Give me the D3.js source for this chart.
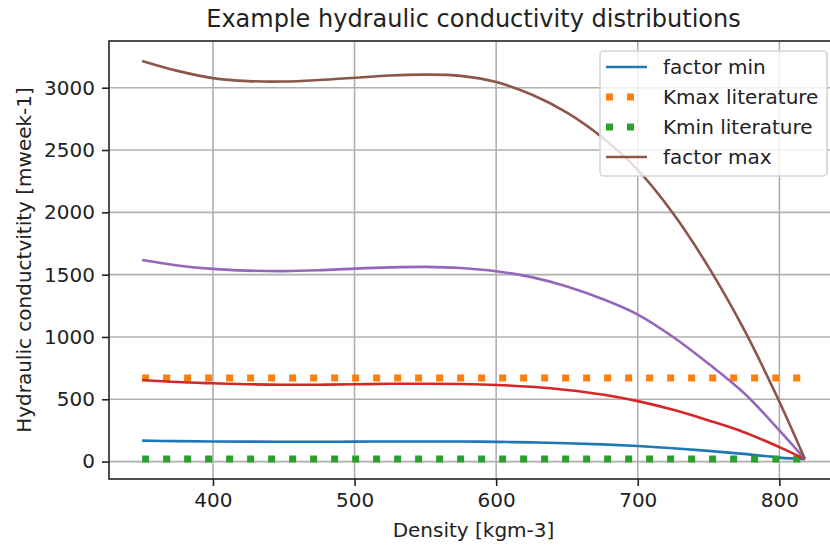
<!DOCTYPE html>
<html>
<head>
<meta charset="utf-8">
<script src="https://cdn.jsdelivr.net/npm/d3@7"></script>
<style>
  html, body { margin: 0; padding: 0; background: #fff; }
  svg { display: block; font-family: "DejaVu Sans", sans-serif; }
</style>
</head>
<body>
<div id="chart"></div>
<script>
// density values (x) shared by every series
const density = [350, 375, 400, 425, 450, 475, 500, 525, 550, 575, 600, 625, 650, 675, 700, 725, 750, 775, 800, 818];

// curves
const factorMin = [168, 164, 161, 160, 159, 159, 160, 161, 161, 161, 158, 154, 147, 138, 125, 107, 86, 62, 32, 20];
const factorRed = [655, 638, 628, 620, 617, 617, 620, 624, 625, 622, 615, 600, 575, 538, 485, 415, 330, 236, 116, 20];
const factorPurple = [1618, 1574, 1546, 1532, 1528, 1535, 1548, 1558, 1562, 1553, 1527, 1480, 1405, 1305, 1180, 1000, 785, 550, 250, 20];
const factorMax = [3215, 3135, 3077, 3053, 3050, 3062, 3080, 3098, 3105, 3095, 3045, 2945, 2800, 2600, 2340, 1990, 1560, 1060, 480, 20];

// literature bounds (constant lines)
const kmaxLit = 670;
const kminLit = 20;

const xTicks = [400, 500, 600, 700, 800];
const yTicks = [0, 500, 1000, 1500, 2000, 2500, 3000];

const width = 830, height = 545;
const margin = { left: 109, right: 838, top: 41, bottom: 479 };

const svg = d3.select("#chart").append("svg")
    .attr("width", width)
    .attr("height", height);

// matplotlib style 5% margins around the data
const xExt = d3.extent(density);
const xPad = (xExt[1] - xExt[0]) * 0.05;
const allY = factorMin.concat(factorRed, factorPurple, factorMax, [kmaxLit, kminLit]);
const yExt = d3.extent(allY);
const yPad = (yExt[1] - yExt[0]) * 0.05;

const x = d3.scaleLinear()
    .domain([xExt[0] - xPad, xExt[1] + xPad])
    .range([margin.left, margin.right]);
const y = d3.scaleLinear()
    .domain([yExt[0] - yPad, yExt[1] + yPad])
    .range([margin.bottom, margin.top]);

const plotW = margin.right - margin.left;
const plotH = margin.bottom - margin.top;

// clip so nothing leaves the axes box
svg.append("defs").append("clipPath").attr("id", "plotclip")
    .append("rect")
    .attr("x", margin.left).attr("y", margin.top)
    .attr("width", plotW).attr("height", plotH);

// grid
const grid = svg.append("g");
grid.selectAll(".gx").data(xTicks).join("line")
    .attr("x1", d => x(d)).attr("x2", d => x(d))
    .attr("y1", margin.top).attr("y2", margin.bottom)
    .attr("stroke", "#b0b0b0").attr("stroke-width", 1.6);
grid.selectAll(".gy").data(yTicks).join("line")
    .attr("x1", margin.left).attr("x2", margin.right)
    .attr("y1", d => y(d)).attr("y2", d => y(d))
    .attr("stroke", "#b0b0b0").attr("stroke-width", 1.6);

const line = d3.line()
    .x(d => x(d[0]))
    .y(d => y(d[1]))
    .curve(d3.curveCatmullRom.alpha(0.5));

const plot = svg.append("g").attr("clip-path", "url(#plotclip)");

const series = [
    { name: "factor min", values: factorMin, color: "#1f77b4", dotted: false },
    { name: "Kmax literature", values: density.map(() => kmaxLit), color: "#ff7f0e", dotted: true },
    { name: "Kmin literature", values: density.map(() => kminLit), color: "#2ca02c", dotted: true },
    { name: null, values: factorRed, color: "#d62728", dotted: false },
    { name: null, values: factorPurple, color: "#9467bd", dotted: false },
    { name: "factor max", values: factorMax, color: "#8c564b", dotted: false }
];

series.forEach(s => {
    const pts = density.map((d, i) => [d, s.values[i]]);
    plot.append("path")
        .attr("d", line(pts))
        .attr("fill", "none")
        .attr("stroke", s.color)
        .attr("stroke-width", s.dotted ? 7 : 2.6)
        .attr("stroke-dasharray", s.dotted ? "7 14" : null)
        .attr("stroke-linejoin", "round");
});

// axes
const xAxis = svg.append("g")
    .attr("transform", `translate(0,${margin.bottom})`)
    .call(d3.axisBottom(x).tickValues(xTicks).tickSize(7).tickPadding(7).tickFormat(d3.format("d")));
const yAxis = svg.append("g")
    .attr("transform", `translate(${margin.left},0)`)
    .call(d3.axisLeft(y).tickValues(yTicks).tickSize(7).tickPadding(7).tickFormat(d3.format("d")));

[xAxis, yAxis].forEach(a => {
    a.select(".domain").remove();
    a.selectAll(".tick line").attr("stroke", "#222").attr("stroke-width", 1.6);
    a.selectAll(".tick text")
        .attr("fill", "#222")
        .style("font-size", "20px")
        .style("font-family", "DejaVu Sans");
});

// spines
svg.append("rect")
    .attr("x", margin.left).attr("y", margin.top)
    .attr("width", plotW).attr("height", plotH)
    .attr("fill", "none")
    .attr("stroke", "#222")
    .attr("stroke-width", 1.6);

// labels and title
svg.append("text")
    .attr("x", (margin.left + margin.right) / 2)
    .attr("y", 27)
    .attr("text-anchor", "middle")
    .attr("fill", "#222")
    .style("font-size", "24px")
    .text("Example hydraulic conductivity distributions");

svg.append("text")
    .attr("x", (margin.left + margin.right) / 2)
    .attr("y", 537)
    .attr("text-anchor", "middle")
    .attr("fill", "#222")
    .style("font-size", "20px")
    .text("Density [kgm-3]");

svg.append("text")
    .attr("transform", `translate(31,${(margin.top + margin.bottom) / 2}) rotate(-90)`)
    .attr("text-anchor", "middle")
    .attr("fill", "#222")
    .style("font-size", "20px")
    .text("Hydraulic conductvitity [mweek-1]");

// legend
const legendItems = series.filter(s => s.name);
const lg = svg.append("g");
lg.append("rect")
    .attr("x", 600).attr("y", 51)
    .attr("width", 227).attr("height", 125)
    .attr("rx", 4)
    .attr("fill", "rgba(255,255,255,0.8)")
    .attr("stroke", "#d5d5d5")
    .attr("stroke-width", 1.6);

const rows = lg.selectAll(".row").data(legendItems).join("g")
    .attr("transform", (d, i) => `translate(606,${67 + i * 30})`);
rows.append("line")
    .attr("x1", 0).attr("x2", 41)
    .attr("y1", 0).attr("y2", 0)
    .attr("stroke", d => d.color)
    .attr("stroke-width", d => d.dotted ? 7 : 2.6)
    .attr("stroke-dasharray", d => d.dotted ? "7 14" : null);
rows.append("text")
    .attr("x", 57)
    .attr("y", 0)
    .attr("dy", "0.35em")
    .attr("fill", "#222")
    .style("font-size", "20px")
    .text(d => d.name);
</script>
</body>
</html>
